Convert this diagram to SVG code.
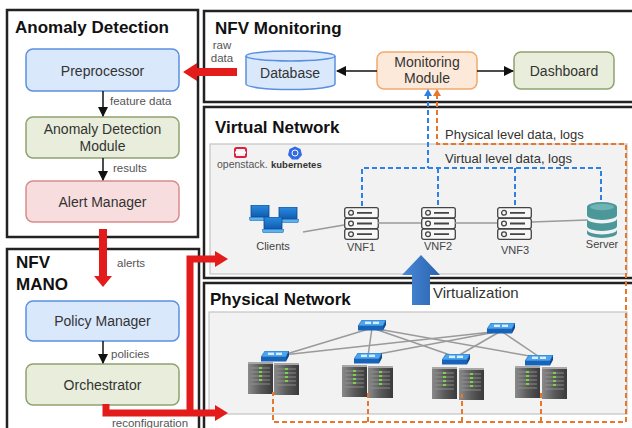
<svg xmlns="http://www.w3.org/2000/svg" width="632" height="428" viewBox="0 0 632 428">
  <style>
    text { font-family: "Liberation Sans", Arial, sans-serif; }
    .frame { fill: #ffffff; stroke: #222222; stroke-width: 2.5; }
    .title { font-size: 17px; font-weight: bold; fill: #111111; }
    .lbl { font-size: 14px; fill: #333333; text-anchor: middle; }
    .small { font-size: 11.5px; fill: #555555; }
    .icon-lbl { font-size: 11px; fill: #444444; text-anchor: middle; }
    .flow { font-size: 13px; fill: #333333; }
    .blue { fill: #dae8fc; stroke: #5a90e0; stroke-width: 1.5; }
    .green { fill: #e8eedb; stroke: #8fa36f; stroke-width: 1.5; }
    .red { fill: #f7dddd; stroke: #d68c8c; stroke-width: 1.5; }
    .orange { fill: #fde9d9; stroke: #f1a96d; stroke-width: 1.5; }
    .panel { fill: #f2f2f2; stroke: #c4c4c4; stroke-width: 1.2; }
    .link { stroke: #9a9a9a; stroke-width: 1.5; fill: none; }
    .arrow { stroke: #111111; stroke-width: 1.5; fill: none; marker-end: url(#ah); }
    .vdash { stroke: #2f80e4; stroke-width: 2; stroke-dasharray: 5 3; fill: none; }
    .pdash { stroke: #e8772a; stroke-width: 2; stroke-dasharray: 5 3; fill: none; }
    .redfill { fill: #e31b1b; }
    .redline { stroke: #e31b1b; stroke-width: 7; fill: none; }
  </style>
  <defs>
    <marker id="ah" viewBox="0 0 10 10" refX="9" refY="5" markerWidth="7" markerHeight="7" orient="auto">
      <path d="M0,0 L10,5 L0,10 z" fill="#111111"/>
    </marker>
    <linearGradient id="towerGrad" x1="0" y1="0" x2="1" y2="0">
      <stop offset="0" stop-color="#8a8a8a"/>
      <stop offset="0.5" stop-color="#5a5a5a"/>
      <stop offset="1" stop-color="#3a3a3a"/>
    </linearGradient>
    <linearGradient id="screenGrad" x1="0" y1="0" x2="0" y2="1">
      <stop offset="0" stop-color="#2b8be0"/>
      <stop offset="1" stop-color="#0f5cb0"/>
    </linearGradient>
    <linearGradient id="bigArrow" x1="0" y1="0" x2="1" y2="0">
      <stop offset="0" stop-color="#4a8ad6"/>
      <stop offset="1" stop-color="#2a62b0"/>
    </linearGradient>
    <!-- VNF rack unit: three stacked slots -->
    <symbol id="vnf" viewBox="0 0 35 33" width="35" height="33">
      <g fill="#f7f7f7" stroke="#444444" stroke-width="1.3">
        <rect x="0.7" y="0.7" width="33.6" height="10.2" rx="2"/>
        <rect x="0.7" y="11.4" width="33.6" height="10.2" rx="2"/>
        <rect x="0.7" y="22.1" width="33.6" height="10.2" rx="2"/>
        <circle cx="7" cy="5.8" r="2.4"/>
        <circle cx="7" cy="16.5" r="2.4"/>
        <circle cx="7" cy="27.2" r="2.4"/>
        <path d="M13,5.8 H28 M13,16.5 H28 M13,27.2 H28" stroke-width="1.8"/>
      </g>
    </symbol>
    <!-- network switch -->
    <symbol id="switch" viewBox="0 0 28 11" width="28" height="11">
      <polygon points="4,0 28,0 25,6 0,6" fill="#4aa6ee" stroke="#1a5fb0" stroke-width="0.6"/>
      <polygon points="0,6 25,6 25,10.5 0,10.5" fill="#1862b8"/>
      <polygon points="25,6 28,0 28,5 25,10.5" fill="#0e4a92"/>
      <rect x="7" y="1.6" width="6" height="2.4" fill="#ffffff" opacity="0.8"/>
      <rect x="15" y="1.6" width="6" height="2.4" fill="#ffffff" opacity="0.8"/>
    </symbol>
    <!-- tower server -->
    <symbol id="tower" viewBox="0 0 25 32" width="25" height="32">
      <rect x="0" y="0" width="25" height="32" fill="url(#towerGrad)"/>
      <rect x="0" y="0" width="25" height="2" fill="#a8a8a8"/>
      <g stroke="#9a9a9a" stroke-width="0.8">
        <path d="M3,6 H22 M3,10 H22 M3,14 H22 M3,18 H22 M3,22 H22"/>
      </g>
      <g fill="#7ed04a">
        <rect x="11" y="5" width="3" height="2"/>
        <rect x="11" y="9" width="3" height="2"/>
        <rect x="11" y="13" width="3" height="2"/>
        <rect x="11" y="17" width="3" height="2"/>
      </g>
    </symbol>
    <!-- laptop -->
    <symbol id="laptop" viewBox="0 0 22 16" width="22" height="16">
      <rect x="2" y="0" width="18" height="12" fill="url(#screenGrad)" stroke="#0b4a90" stroke-width="0.8"/>
      <polygon points="0,12.5 22,12.5 21,15.5 1,15.5" fill="#5ab2ef" stroke="#1b6cc0" stroke-width="0.6"/>
    </symbol>
  </defs>

  <rect x="0" y="0" width="632" height="428" fill="#ffffff"/>

  <!-- Anomaly Detection -->
  <g id="anomaly-detection">
    <rect class="frame" x="7" y="10" width="191" height="227"/>
    <text class="title" x="15" y="33">Anomaly Detection</text>
  </g>
  <g id="preprocessor">
    <rect class="blue" x="26" y="49" width="153" height="42" rx="7"/>
    <text class="lbl" x="102.5" y="76">Preprocessor</text>
  </g>
  <g id="ad-module">
    <rect class="green" x="26" y="117" width="153" height="41" rx="7"/>
    <text class="lbl" x="102.5" y="134">Anomaly Detection</text>
    <text class="lbl" x="102.5" y="151">Module</text>
  </g>
  <g id="alert-manager">
    <rect class="red" x="26" y="181" width="153" height="41" rx="7"/>
    <text class="lbl" x="102.5" y="207">Alert Manager</text>
  </g>

  <!-- NFV MANO -->
  <g id="nfv-mano">
    <rect class="frame" x="7" y="249" width="192" height="190"/>
    <text class="title" x="16" y="268">NFV</text>
    <text class="title" x="16" y="290">MANO</text>
  </g>
  <g id="policy-manager">
    <rect class="blue" x="26" y="301" width="153" height="40" rx="7"/>
    <text class="lbl" x="102.5" y="326">Policy Manager</text>
  </g>
  <g id="orchestrator">
    <rect class="green" x="26" y="364" width="153" height="41" rx="7"/>
    <text class="lbl" x="102.5" y="390">Orchestrator</text>
  </g>

  <!-- NFV Monitoring -->
  <g id="nfv-monitoring">
    <rect class="frame" x="204" y="11" width="440" height="91"/>
    <text class="title" x="215" y="34">NFV Monitoring</text>
  </g>
  <g id="database">
    <path class="blue" d="M246,56 V84 A44.5,5.5 0 0 0 335,84 V56"/>
    <ellipse class="blue" cx="290.5" cy="56" rx="44.5" ry="5"/>
    <text class="lbl" x="290" y="78">Database</text>
  </g>
  <g id="monitoring-module">
    <rect class="orange" x="377" y="52" width="100" height="37" rx="7"/>
    <text class="lbl" x="427" y="67">Monitoring</text>
    <text class="lbl" x="427" y="83">Module</text>
  </g>
  <g id="dashboard">
    <rect class="green" x="514" y="52" width="100" height="37" rx="7"/>
    <text class="lbl" x="564" y="76">Dashboard</text>
  </g>

  <!-- Virtual Network -->
  <g id="virtual-network">
    <rect class="frame" x="204" y="107" width="440" height="171"/>
    <text class="title" x="215" y="133">Virtual Network</text>
    <rect class="panel" x="210" y="144" width="417" height="130"/>
    <!-- platform logos -->
    <rect x="235" y="148" width="11" height="9" rx="1.5" fill="none" stroke="#e0203a" stroke-width="2"/>
    <rect x="235" y="151.5" width="11" height="2" fill="#ffffff"/>
    <text x="217" y="168" font-size="10.5" fill="#555555">openstack.</text>
    <polygon points="295,146.5 300.5,149 302,155 298,159.5 292,159.5 288,155 289.5,149" fill="#326ce5"/>
    <circle cx="295" cy="153" r="3" fill="none" stroke="#ffffff" stroke-width="1"/>
    <text x="271" y="168" font-size="9.5" font-weight="bold" fill="#333333">kubernetes</text>
  </g>
  <g id="clients">
    <use href="#laptop" x="249" y="205"/>
    <use href="#laptop" x="277" y="207"/>
    <use href="#laptop" x="262" y="217"/>
    <text class="icon-lbl" x="273" y="250">Clients</text>
  </g>
  <g id="vnf1">
    <use href="#vnf" x="344" y="207"/>
    <text class="icon-lbl" x="361" y="251">VNF1</text>
  </g>
  <g id="vnf2">
    <use href="#vnf" x="421" y="207"/>
    <text class="icon-lbl" x="438" y="250">VNF2</text>
  </g>
  <g id="vnf3">
    <use href="#vnf" x="497" y="207"/>
    <text class="icon-lbl" x="515" y="254">VNF3</text>
  </g>
  <g id="server">
    <g fill="#4c979a">
      <path d="M587,207 A15,5 0 0 1 617,207 V215 A15,5 0 0 1 587,215 Z"/>
      <path d="M587,218.5 A15,5 0 0 0 617,218.5 V226 A15,5 0 0 1 587,226 Z"/>
      <path d="M587,229.5 A15,5 0 0 0 617,229.5 V233 A15,5 0 0 1 587,233 Z"/>
    </g>
    <ellipse cx="602" cy="207" rx="12" ry="3.2" fill="#6fb3b5"/>
    <text class="icon-lbl" x="602" y="248">Server</text>
  </g>

  <!-- Physical Network -->
  <g id="physical-network">
    <rect class="frame" x="204" y="283" width="440" height="160"/>
    <text class="title" x="210" y="305">Physical Network</text>
    <rect class="panel" x="209" y="312" width="418" height="102"/>
  </g>
  <g id="switch-links" class="link">
    <path d="M372,328 L283,355 M372,328 L368,356 M372,328 L456,357 M372,328 L541,358"/>
    <path d="M501,331 L283,355 M501,331 L368,356 M501,331 L456,357 M501,331 L541,358"/>
  </g>
  <g id="switches">
    <use href="#switch" x="358" y="320"/>
    <use href="#switch" x="487" y="323"/>
    <use href="#switch" x="261" y="351"/>
    <use href="#switch" x="354" y="353"/>
    <use href="#switch" x="442" y="354"/>
    <use href="#switch" x="525" y="355"/>
  </g>
  <g id="rack1">
    <use href="#tower" x="248" y="362"/>
    <use href="#tower" x="274" y="363"/>
  </g>
  <g id="rack2">
    <use href="#tower" x="342" y="365"/>
    <use href="#tower" x="368" y="366"/>
  </g>
  <g id="rack3">
    <use href="#tower" x="432" y="367"/>
    <use href="#tower" x="459" y="368"/>
  </g>
  <g id="rack4">
    <use href="#tower" x="515" y="366"/>
    <use href="#tower" x="542" y="367"/>
  </g>

  <!-- connectors -->
  <g id="connectors">
    <!-- anomaly detection pipeline -->
    <path class="arrow" d="M103,91 V116"/>
    <text class="small" x="110" y="105">feature data</text>
    <path class="arrow" d="M103,158 V180"/>
    <text class="small" x="113" y="172">results</text>
    <!-- MANO pipeline -->
    <path class="arrow" d="M103,341 V363"/>
    <text class="small" x="111" y="358" font-size="12.5">policies</text>

    <!-- monitoring -->
    <path class="arrow" d="M377,71 H337"/>
    <path class="arrow" d="M477,71 H513"/>

    <!-- virtual links -->
    <path class="link" d="M303,232 L344,225 M378,223 H421 M455,223 H497 M532,222 L587,220"/>

    <!-- virtual level data -->
    <path class="vdash" d="M428,94 V168 M362,206 V168 H601 V202 M438,168 V206 M515,168 V206"/>
    <polygon points="428,89 424,96 432,96" fill="#2f80e4"/>
    <text class="flow" x="445" y="163">Virtual level data, logs</text>

    <!-- physical level data -->
    <path class="pdash" d="M437,94 V144 H626 V422 H273 V392 M368,422 V392 M462,422 V394 M541,422 V393"/>
    <polygon points="437,89 433,96 441,96" fill="#e8772a"/>
    <text class="flow" x="445" y="139">Physical level data, logs</text>

    <!-- virtualization -->
    <polygon points="421,255 440,275 430,275 430,305 412,305 412,275 402,275" fill="url(#bigArrow)"/>
    <text x="433" y="298" font-size="15" fill="#333333">Virtualization</text>

    <!-- raw data -->
    <polygon class="redfill" points="237,68 197,68 197,63 183,72 197,81 197,76 237,76"/>
    <text class="small" x="222" y="49" font-size="10.5" text-anchor="middle">raw</text>
    <text class="small" x="222" y="62" font-size="10.5" text-anchor="middle">data</text>

    <!-- alerts -->
    <polygon class="redfill" points="99,229 107,229 107,276 112,276 103,287 94,276 99,276"/>
    <text class="small" x="117" y="267" font-size="11">alerts</text>

    <!-- reconfiguration -->
    <path class="redline" d="M106,404 V413 H216 M190,413 V259 H216"/>
    <polygon class="redfill" points="215,251 228,259 215,267"/>
    <polygon class="redfill" points="215,405 228,413 215,421"/>
    <text class="small" x="112" y="427" font-size="12">reconfiguration</text>
  </g>
</svg>
